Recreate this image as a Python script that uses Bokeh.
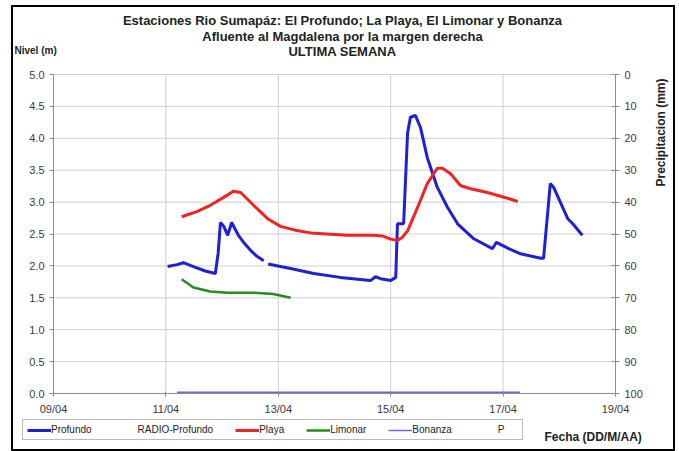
import math
from bokeh.plotting import figure
from bokeh.models import (Range1d, LinearAxis, FixedTicker, NumeralTickFormatter,
                          Legend, LegendItem, Label)
from bokeh.embed import file_html
from bokeh.resources import INLINE

# ---- data (x = day of April, fractional) ----
profundo_t = [11.03, 11.20, 11.31, 11.49, 11.70, 11.88, 11.93, 11.97, 12.03, 12.10,
              12.17, 12.29, 12.40, 12.51, 12.62, 12.74, 12.78, 12.82, 13.04, 13.22,
              13.63, 14.10, 14.64, 14.73, 14.82, 15.00, 15.09, 15.12, 15.23, 15.30,
              15.35, 15.44, 15.53, 15.65, 15.83, 16.01, 16.19, 16.47, 16.81, 16.88,
              17.10, 17.31, 17.67, 17.72, 17.84, 17.90, 18.15, 18.24, 18.41]
profundo_v = [1.99, 2.02, 2.05, 1.99, 1.92, 1.88, 2.20, 2.68, 2.62, 2.48,
              2.68, 2.48, 2.35, 2.24, 2.15, 2.08, float("nan"), 2.03, 1.99, 1.96,
              1.88, 1.82, 1.77, 1.83, 1.80, 1.77, 1.82, 2.66, 2.66, 4.08,
              4.33, 4.36, 4.17, 3.70, 3.23, 2.92, 2.66, 2.43, 2.27, 2.37,
              2.27, 2.19, 2.12, 2.12, 3.29, 3.23, 2.74, 2.66, 2.48]

playa_t = [11.28, 11.55, 11.79, 12.02, 12.20, 12.33, 12.56, 12.81, 13.04, 13.30,
           13.63, 14.23, 14.69, 14.85, 15.00, 15.12, 15.21, 15.30, 15.48, 15.65,
           15.83, 15.92, 16.06, 16.24, 16.42, 16.72, 17.08, 17.26]
playa_v = [2.77, 2.85, 2.95, 3.07, 3.17, 3.15, 2.95, 2.74, 2.62, 2.56,
           2.51, 2.48, 2.48, 2.47, 2.42, 2.40, 2.45, 2.55, 2.92, 3.29,
           3.53, 3.53, 3.45, 3.26, 3.21, 3.15, 3.06, 3.01]

limonar_t = [11.28, 11.49, 11.79, 12.10, 12.56, 12.91, 13.22]
limonar_v = [1.79, 1.66, 1.60, 1.58, 1.58, 1.56, 1.50]

bonanza_t = [11.20, 12.00, 13.00, 14.00, 15.00, 16.00, 17.00, 17.30]
bonanza_v = [0.02, 0.02, 0.02, 0.02, 0.02, 0.02, 0.02, 0.02]

radio_t, radio_v = [], []
precip_t, precip_v = [], []

x_ticks = [9, 11, 13, 15, 17, 19]
x_tick_labels = ["09/04", "11/04", "13/04", "15/04", "17/04", "19/04"]
y_ticks = [0.0, 0.5, 1.0, 1.5, 2.0, 2.5, 3.0, 3.5, 4.0, 4.5, 5.0]
p_ticks = [0, 10, 20, 30, 40, 50, 60, 70, 80, 90, 100]
x_lim = (9, 19)
y_lim = (0, 5)
p_lim = (0, 100)

title_lines = ["Estaciones Rio Sumapáz: El Profundo; La Playa, El Limonar y Bonanza",
               "Afluente al Magdalena por la margen derecha",
               "ULTIMA SEMANA"]
y_left_label = "Nivel (m)"
y_right_label = "Precipitacion (mm)"
x_label = "Fecha (DD/M/AA)"

FONT = "Liberation Sans"
TXT = "#222222"
GRID = "#cfcfcf"
AXIS = "#8c8c8c"

# ---- layout: the frame fills the whole canvas; axes sit at fixed data locations ----
CW, CH = 660, 442            # canvas size
PL, PR, PT, PB = 40, 602, 67, 386   # pixel box of the plotting area inside the canvas
sx = (PR - PL) / (x_lim[1] - x_lim[0])
sy = (PB - PT) / (y_lim[1] - y_lim[0])
sp = (PB - PT) / (p_lim[1] - p_lim[0])
x_range = Range1d(x_lim[0] - PL / sx, x_lim[1] + (CW - PR) / sx)
y_range = Range1d(y_lim[0] - (CH - PB) / sy, y_lim[1] + PT / sy)
p_range = Range1d(start=p_lim[1] + (CH - PB) / sp, end=p_lim[0] - PT / sp)

p = figure(frame_width=CW, frame_height=CH, x_range=x_range, y_range=y_range,
           output_backend="svg", toolbar_location=None,
           min_border_left=0, min_border_right=0, min_border_top=0, min_border_bottom=0)
p.title.visible = False
p.extra_y_ranges = {"precip": p_range}
p.outline_line_color = None
p.background_fill_color = "white"
p.border_fill_color = "white"
p.styles = {"border": "2px solid black", "margin-left": "11px", "margin-top": "5px"}
p.xgrid.visible = False
p.ygrid.visible = False

# grid lines limited to the plotting box
p.segment(x0=[x_lim[0]] * (len(y_ticks) - 1), x1=[x_lim[1]] * (len(y_ticks) - 1),
          y0=y_ticks[1:], y1=y_ticks[1:], line_color=GRID, line_width=1)
p.segment(x0=x_ticks[1:-1], x1=x_ticks[1:-1], y0=[y_lim[0]] * 4, y1=[y_lim[1]] * 4,
          line_color=GRID, line_width=1)

# axes (real Bokeh axes, pinned to data positions)
xa = p.xaxis[0]
xa.fixed_location = y_lim[0]
xa.bounds = x_lim
xa.ticker = FixedTicker(ticks=x_ticks)
xa.major_label_overrides = {t: l for t, l in zip(x_ticks, x_tick_labels)}
xa.major_label_standoff = 6

ya = p.yaxis[0]
ya.fixed_location = x_lim[0]
ya.bounds = y_lim
ya.ticker = FixedTicker(ticks=y_ticks)
ya.formatter = NumeralTickFormatter(format="0.0")

ra = LinearAxis(y_range_name="precip", ticker=FixedTicker(ticks=p_ticks),
                fixed_location=x_lim[1], bounds=p_lim)
p.add_layout(ra, "right")

for ax in [xa, ya, ra]:
    ax.axis_line_color = AXIS
    ax.major_tick_line_color = AXIS
    ax.minor_tick_line_color = None
    ax.major_label_text_font = FONT
    ax.major_label_text_font_size = "11px"
    ax.major_label_text_color = "#3a3a3a"
xa.major_tick_in, xa.major_tick_out = 2, 3
ya.major_tick_in, ya.major_tick_out = 0, 4
ra.major_tick_in, ra.major_tick_out = 4, 4

# series
r_prof = p.line(profundo_t, profundo_v, line_color="#1f1fd6", line_width=3)
r_radio = p.scatter(radio_t, radio_v, size=4, color="#333333")
r_playa = p.line(playa_t, playa_v, line_color="#f02424", line_width=3)
r_lim = p.line(limonar_t, limonar_v, line_color="#2a8a22", line_width=2.5)
r_bon = p.line(bonanza_t, bonanza_v, line_color="#6a6ad0", line_width=1.5)
r_p = p.scatter(precip_t, precip_v, size=4, color="#333333", y_range_name="precip")


# texts (screen units from the canvas' bottom-left corner)
def lab(text, x, y, size="13px", bold=True, align="center", angle=0.0):
    p.add_layout(Label(x=x, y=y, x_units="screen", y_units="screen", text=text,
                       text_font=FONT, text_font_size=size,
                       text_font_style="bold" if bold else "normal",
                       text_align=align, text_baseline="middle", angle=angle,
                       text_color=TXT))


for i, t in enumerate(title_lines):
    lab(t, 329, CH - 13 - i * 15.5)
lab(y_left_label, 1, CH - 43, size="10px", align="left")
lab(x_label, 531, 13, size="12px", align="left")
lab(y_right_label, 647, CH - 71, size="12px", align="right", angle=math.pi / 2)

legend = Legend(items=[
    LegendItem(label="Profundo", renderers=[r_prof]),
    LegendItem(label="RADIO-Profundo", renderers=[r_radio]),
    LegendItem(label="Playa", renderers=[r_playa]),
    LegendItem(label="Limonar", renderers=[r_lim]),
    LegendItem(label="Bonanza", renderers=[r_bon]),
    LegendItem(label="P", renderers=[r_p]),
], orientation="horizontal", location=(9, 9))
legend.label_text_font = FONT
legend.label_text_font_size = "10px"
legend.label_text_color = TXT
legend.glyph_width = 24
legend.glyph_height = 10
legend.label_height = 11
legend.label_standoff = 0
legend.spacing = 22
legend.padding = 4
legend.margin = 0
legend.border_line_color = "#777777"
legend.background_fill_alpha = 1
p.add_layout(legend, "center")

open("out.html", "w").write(file_html(p, INLINE))
